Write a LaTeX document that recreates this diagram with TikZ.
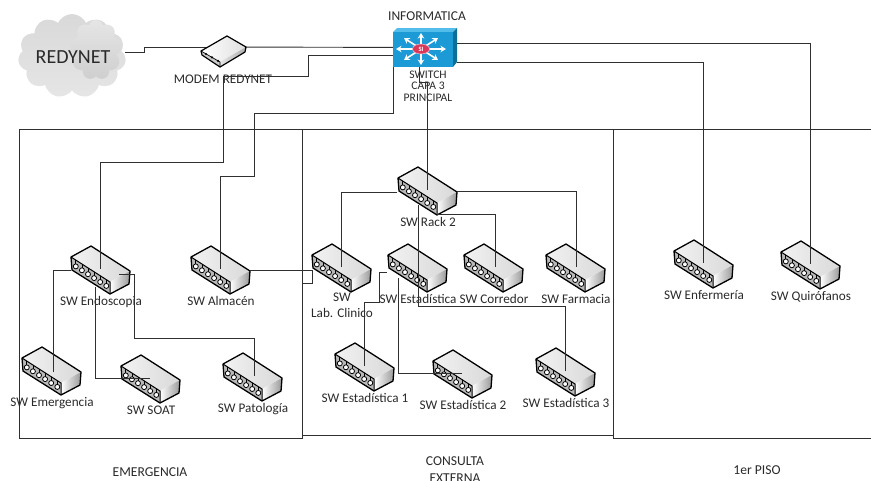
\documentclass[tikz,border=0pt]{standalone}
\usepackage{fontspec}
\setmainfont{Carlito}
\usepackage{xcolor}
\usetikzlibrary{arrows.meta,backgrounds,positioning,shapes.geometric,shapes.symbols,calc}
\definecolor{NetInk}{HTML}{2A2A2A}
\definecolor{NetLine}{HTML}{303030}
\definecolor{CoreFront}{HTML}{1B9AD6}
\definecolor{CoreTop}{HTML}{52BCEA}
\definecolor{CoreSide}{HTML}{0E6E94}
\definecolor{CoreTag}{HTML}{D9385C}

% access switch: top face, side face, front face and six ports
\newcommand{\swicon}{%
    \begin{scope}[shift={(path picture bounding box.center)}]
        \shade[left color=gray!10, right color=gray!30] (-9,-23) -- (30,2) -- (10,13) -- (-29,-12) -- cycle;
        \shade[left color=white, right color=gray!80] (10,13) -- (30,2) -- (29,15) -- (10,25) -- cycle;
        \fill[gray!55] (-29,-12) -- (10,13) -- (10,25) -- (-28,1) -- cycle;
        \foreach \k in {0,...,5} {
                \draw[line width=0.8pt, black] ({-24.2+6.1*\k},{-9+3.9*\k}) -- ++(0,4);
                \draw[line width=0.8pt, black, fill=white] ({-24.2+6.1*\k},{-2.6+3.9*\k}) circle (2.5);
            }
        \draw[line width=1.3pt, black, line join=round] (-9,-23) -- (30,2) -- (29,15) -- (10,25) -- (-28,1) -- (-29,-12) -- cycle;
        \draw[line width=1pt, black] (-29,-12) -- (10,13) -- (10,25);
    \end{scope}
}
% edge modem
\newcommand{\modemicon}{%
    \begin{scope}[shift={(path picture bounding box.center)}]
        \shade[left color=white, right color=gray!25] (3,-15) -- (22,-4) -- (-4,11) -- (-23,0) -- cycle;
        \shade[left color=gray!20, right color=gray!65] (-4,11) -- (22,-4) -- (21,1) -- (-4,16) -- cycle;
        \fill[gray!40] (-23,0) -- (-4,11) -- (-4,16) -- (-22,4) -- cycle;
        \foreach \k in {0,1,2} {
                \fill[black] ({-18+6*\k},{3+3.4*\k}) circle (1.2);
            }
        \draw[line width=1.2pt, black, line join=round] (3,-15) -- (22,-4) -- (21,1) -- (-4,16) -- (-22,4) -- (-23,0) -- cycle;
        \draw[line width=0.7pt, black] (-23,0) -- (-4,11) -- (-4,16);
    \end{scope}
}
% layer 3 switch: blue box with the eight white arrows
\newcommand{\coreicon}{%
    \begin{scope}[shift={(path picture bounding box.center)}]
        \fill[CoreTop] (-32,-15.5) -- (-28,-19.5) -- (32,-19.5) -- (28,-15.5) -- cycle;
        \fill[CoreSide] (28,-15.5) -- (32,-19.5) -- (32,14.5) -- (28,19.5) -- cycle;
        \fill[CoreFront] (-32,-15.5) rectangle (28,19.5);
        \foreach \ax/\ay in {25/0,-25/0,0/16,0/-16,17/11,-17/11,17/-11,-17/-11} {
                \draw[white, line width=1.6pt, -{Stealth[length=5.5pt,width=6.5pt]}] (-4,1.5) -- ++(\ax,\ay);
            }
    \end{scope}
}

\begin{document}
\begin{tikzpicture}[
        x=1pt,
        y=-1pt,
        font=\fontsize{13.2}{15}\selectfont,
        text=NetInk,
        link/.style={draw=NetLine, line width=0.9pt},
        zone/.style={draw=NetLine, line width=1pt, inner sep=0pt},
        swnode/.style={
                inner sep=0pt,
                minimum width=64pt,
                minimum height=52pt,
                path picture={\swicon}
            },
        modemnode/.style={
                inner sep=0pt,
                minimum width=50pt,
                minimum height=36pt,
                path picture={\modemicon}
            },
        corenode/.style={
                inner sep=0pt,
                minimum width=64pt,
                minimum height=39pt,
                path picture={\coreicon}
            },
        swlabel/.style={
                inner sep=0pt,
                align=center,
                anchor=north,
                xshift=1pt,
                execute at begin node=\strut
            },
        zonelabel/.style={inner sep=0pt, align=center, font=\fontsize{13.6}{17}\selectfont},
        smalllabel/.style={inner sep=0pt, align=center, font=\fontsize{11.6}{11.5}\selectfont},
    ]
    \useasboundingbox (0,0) rectangle (871,480);

    % Zones
    \node[zone, minimum width=283pt, minimum height=309pt] (zoneEmergencia) at (160.5,283.5) {};
    \node[zone, minimum width=311pt, minimum height=306pt] (zoneConsulta) at (457.5,282) {};
    \node[zone, minimum width=267pt, minimum height=309pt] (zonePiso) at (746.5,283.5) {};

    % Cloud
    \node[cloud, cloud puffs=11, cloud puff arc=130, aspect=1.4, inner sep=0pt, minimum width=108pt, minimum height=84pt,
        top color=gray!30, bottom color=gray!20] (redynet) at (72,56) {};
    \node[cloud, cloud puffs=9, aspect=1, inner sep=0pt, minimum width=52pt, minimum height=60pt,
        top color=gray!20, bottom color=gray!38] (puff) at (96,50) {};
    \node[inner sep=0pt, font=\fontsize{20}{22}\selectfont] (redynetTxt) at (73,57) {REDYNET};

    % Switches
    \foreach \nm/\px/\py/\txt in {
            rack/427/190/{SW Rack 2},
            lab/341/267/{SW\\[1pt]Lab. Clinico},
            estadistica/417/267/{SW Estadística},
            corredor/493/267/{SW Corredor},
            farmacia/575/267/{SW Farmacia},
            endoscopia/100/269/{SW Endoscopia},
            almacen/220/269/{SW Almacén},
            emergencia/51/370/{SW Emergencia},
            soat/150/378/{SW SOAT},
            patologia/252/376/{SW Patología},
            estUno/364/366/{SW Estadística 1},
            estDos/462/373/{SW Estadística 2},
            estTres/565/371/{SW Estadística 3},
            enfermeria/703/263/{SW Enfermería},
            quirofanos/810/264/{SW Quirófanos}} {
            \node[swnode] (\nm) at (\px,\py) {};
            \node[swlabel, below=0pt of \nm] (\nm Txt) {\txt};
        }

    % Main switch and modem
    \node[corenode] (core) at (425,47.5) {};
    \node[ellipse, fill=CoreTag, draw=white!70!CoreTag, line width=0.5pt, inner sep=0pt, minimum width=17pt, minimum height=10pt,
        text=white, font=\fontsize{6.5}{7}\selectfont\bfseries] (coreTag) at ([xshift=-4pt,yshift=-1.5pt]core.center) {SI};
    \node[modemnode] (modem) at (224,51) {};
    \node[inner sep=0pt, font=\fontsize{13.5}{14}\selectfont] (coreTxt) at (427,16) {INFORMATICA};
    \node[smalllabel] (coreName) at (428,86) {SWITCH\\CAPA 3\\PRINCIPAL};
    \node[inner sep=0pt, font=\fontsize{13.2}{14}\selectfont] (modemTxt) at (223,79) {MODEM REDYNET};

    % Zone names
    \node[zonelabel] (emergenciaTxt) at (150,472) {EMERGENCIA};
    \node[zonelabel] (consultaTxt) at (455,469.5) {CONSULTA\\EXTERNA};
    \node[zonelabel] (pisoTxt) at (757,470) {1er PISO};

    % Bends
    \coordinate (bendCloud) at (144,47);
    \coordinate (bendEndoA) at (308,76);
    \coordinate (bendEndoB) at (223,162);
    \coordinate (bendAlmaA) at (254,113);
    \coordinate (bendAlmaB) at (220,176);
    \coordinate (bendRack) at (427,82);
    \coordinate (bendEst) at (418,306);
    \coordinate (bendEstUno) at (379,302);
    \coordinate (bendPato) at (134,338);
    \coordinate (bendLab) at (312,283);
    \coordinate (stubLab) at (302,283);

    % Uplinks behind the modem
    \begin{scope}[on background layer]
        \draw[link] ([yshift=4pt]redynet.east) -| (bendCloud) -- ([yshift=4pt]modem.center);
        \draw[link] ([yshift=4pt]modem.center) -- (core.center);
    \end{scope}

    % Links from the main switch
    \draw[link] ([xshift=-32pt,yshift=-7.5pt]core.center) -| (bendEndoA) -| (bendEndoB) -| (endoscopia.center);
    \draw[link] ([xshift=-32pt,yshift=-19.5pt]core.center) |- (bendAlmaA) |- (bendAlmaB) -- (almacen.center);
    \draw[link] ([xshift=-6pt,yshift=-19.5pt]core.center) |- (bendRack) -- (rack.center);
    \draw[link] ([xshift=32pt,yshift=-14.5pt]core.center) -| (enfermeria.center);
    \draw[link] ([xshift=32pt,yshift=4.5pt]core.center) -| (quirofanos.center);

    % Links from SW Rack 2
    \draw[link] ([xshift=-30pt,yshift=-2pt]rack.center) -| (lab.center);
    \draw[link] ([xshift=30pt,yshift=-1pt]rack.center) -| ([xshift=1pt]farmacia.center);
    \draw[link] ([xshift=10pt,yshift=-24pt]rack.center) -| ([xshift=2pt]corredor.center);
    \draw[link] ([xshift=-9pt,yshift=-15pt]rack.center) -- (bendEst) -| (estTres.center);

    % Links from SW Estadistica
    \draw[link] ([xshift=-30pt,yshift=-5pt]estadistica.center) -| (bendEstUno) -| (estUno.center);
    \draw[link] ([xshift=-19pt,yshift=-11pt]estadistica.center) |- (estDos.center);

    % Links in Emergencia
    \draw[link] ([xshift=-29pt,yshift=-1pt]endoscopia.center) -| ([xshift=2pt,yshift=-2pt]emergencia.center);
    \draw[link] ([xshift=-5pt,yshift=-18pt]endoscopia.center) |- (soat.center);
    \draw[link] ([xshift=19pt,yshift=-5pt]endoscopia.center) -| (bendPato) -| ([xshift=2pt]patologia.center);
    \draw[link] ([xshift=30pt,yshift=-1pt]almacen.center) -| (bendLab) -- (stubLab);

\end{tikzpicture}
\end{document}
